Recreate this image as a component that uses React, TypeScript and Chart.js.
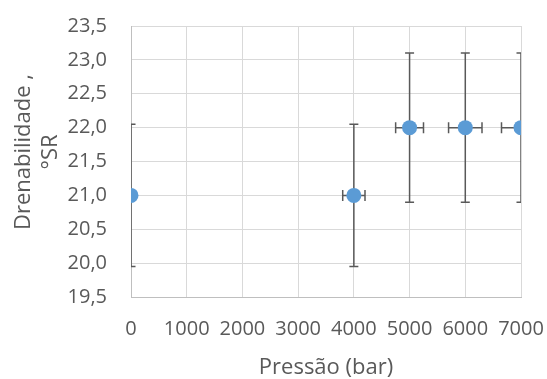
import React, { useEffect, useRef } from "react";
import { Chart, registerables } from "chart.js";

Chart.register(...registerables);

const xValues = [0, 4000, 5000, 6000, 7000];
const yValues = [21.0, 21.0, 22.0, 22.0, 22.0];
const yErrors = [1.05, 1.05, 1.1, 1.1, 1.1];
const xErrors = [0, 200, 250, 300, 350];
const xTitle = "Pressão (bar)";
const yTitleLines = ["Drenabilidade ,", "°SR"];

const FONT = "'Open Sans', 'Noto Sans', sans-serif";
const TEXT = "#595959";

const errorBarPlugin = {
  id: "errorBars",
  beforeDatasetsDraw(chart: any) {
    const { ctx, chartArea, scales } = chart;
    const xs = scales.x;
    const ys = scales.y;
    ctx.save();
    ctx.beginPath();
    ctx.rect(chartArea.left, chartArea.top, chartArea.right - chartArea.left, chartArea.bottom - chartArea.top);
    ctx.clip();
    ctx.strokeStyle = "#595959";
    ctx.lineWidth = 1.5;
    const capY = 4.5;
    const capX = 5.5;
    xValues.forEach((xv, i) => {
      const px = xs.getPixelForValue(xv);
      const py = ys.getPixelForValue(yValues[i]);
      const yTop = ys.getPixelForValue(yValues[i] + yErrors[i]);
      const yBot = ys.getPixelForValue(yValues[i] - yErrors[i]);
      ctx.beginPath();
      ctx.moveTo(px, yTop);
      ctx.lineTo(px, yBot);
      ctx.moveTo(px - capY, yTop);
      ctx.lineTo(px + capY, yTop);
      ctx.moveTo(px - capY, yBot);
      ctx.lineTo(px + capY, yBot);
      ctx.stroke();
      if (xErrors[i] > 0) {
        const xl = xs.getPixelForValue(xv - xErrors[i]);
        const xr = xs.getPixelForValue(xv + xErrors[i]);
        ctx.beginPath();
        ctx.moveTo(xl, py);
        ctx.lineTo(xr, py);
        ctx.moveTo(xl, py - capX);
        ctx.lineTo(xl, py + capX);
        ctx.moveTo(xr, py - capX);
        ctx.lineTo(xr, py + capX);
        ctx.stroke();
      }
    });
    ctx.restore();
  },
};

const yTitlePlugin = {
  id: "yTitle",
  afterDraw(chart: any) {
    const { ctx } = chart;
    ctx.save();
    ctx.fillStyle = TEXT;
    ctx.font = `22px ${FONT}`;
    ctx.textAlign = "center";
    ctx.textBaseline = "middle";
    const cy = 152;
    const xs = [24, 51];
    yTitleLines.forEach((line, i) => {
      ctx.save();
      ctx.translate(xs[i], cy);
      ctx.rotate(-Math.PI / 2);
      ctx.fillText(line, 0, 0);
      ctx.restore();
    });
    ctx.restore();
  },
};

export default function App() {
  const ref = useRef<HTMLCanvasElement | null>(null);
  useEffect(() => {
    document.body.style.margin = "0";
    if (!ref.current) return;
    const chart = new Chart(ref.current, {
      type: "scatter",
      data: {
        datasets: [
          {
            data: xValues.map((x, i) => ({ x, y: yValues[i] })),
            backgroundColor: "#5B9BD5",
            borderColor: "#5B9BD5",
            pointRadius: 7.5,
            pointHoverRadius: 7.5,
            borderWidth: 0,
          },
        ],
      },
      options: {
        responsive: false,
        animation: false,
        devicePixelRatio: 1,
        layout: { padding: { left: 0, right: 26, top: 26, bottom: 0 } },
        plugins: { legend: { display: false }, tooltip: { enabled: false } },
        scales: {
          x: {
            type: "linear",
            min: 0,
            max: 7000,
            grid: { color: "#D9D9D9", drawTicks: false },
            border: { color: "#BFBFBF" },
            ticks: {
              stepSize: 1000,
              autoSkip: false,
              maxRotation: 0,
              padding: 20,
              color: TEXT,
              font: { family: FONT, size: 20 },
              callback: (v: any) => String(v),
            },
            title: {
              display: true,
              text: xTitle,
              color: TEXT,
              font: { family: FONT, size: 22, lineHeight: 1 },
              padding: 0,
            },
            afterFit: (s: any) => {
              s.height = 82;
              s.paddingLeft = 0;
              s.paddingRight = 0;
            },
          },
          y: {
            type: "linear",
            min: 19.5,
            max: 23.5,
            grid: { color: "#D9D9D9", drawTicks: false },
            border: { color: "#BFBFBF" },
            ticks: {
              stepSize: 0.5,
              padding: 24,
              color: TEXT,
              font: { family: FONT, size: 20 },
              callback: (v: any) => Number(v).toFixed(1).replace(".", ","),
            },
            afterFit: (s: any) => {
              s.width = 131;
              s.paddingTop = 0;
              s.paddingBottom = 0;
            },
          },
        },
      },
      plugins: [errorBarPlugin, yTitlePlugin],
    });
    return () => chart.destroy();
  }, []);
  return (
    <div style={{ width: 547, height: 379, position: "relative", background: "#fff" }}>
      <canvas ref={ref} width={547} height={379} />
    </div>
  );
}
